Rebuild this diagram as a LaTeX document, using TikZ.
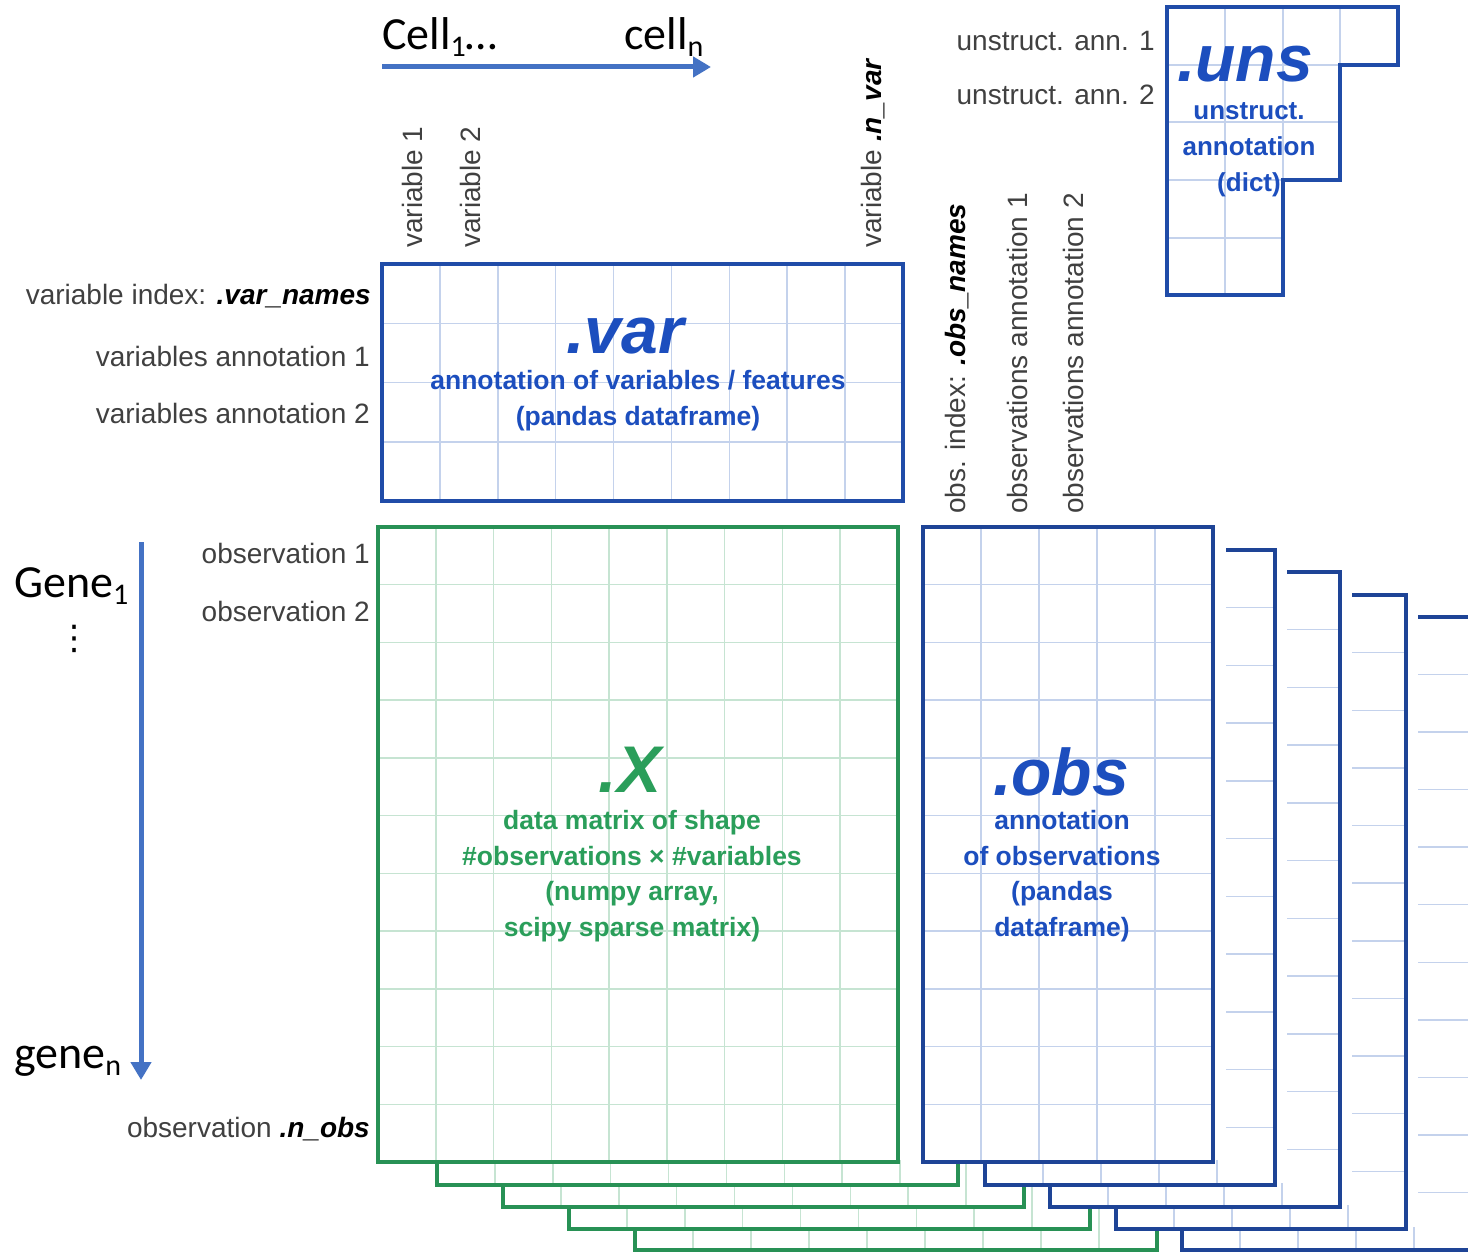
\documentclass[tikz,border=0pt]{standalone}
\usepackage{fontspec}
\setmainfont{Liberation Sans}
\newfontfamily\calibri{Carlito}
\newfontfamily\djv{DejaVu Sans}
\usetikzlibrary{arrows.meta}
\definecolor{bblue}{RGB}{32,76,168}
\definecolor{oblue}{RGB}{30,68,150}
\definecolor{tblue}{RGB}{28,78,190}
\definecolor{ggreen}{RGB}{40,145,85}
\definecolor{tgreen}{RGB}{42,158,90}
\definecolor{gridb}{RGB}{196,210,236}
\definecolor{gridg}{RGB}{198,228,210}
\definecolor{labgray}{RGB}{64,64,64}
\definecolor{arrblue}{RGB}{68,114,196}
\newcommand\csub[1]{\raisebox{-7pt}{\fontsize{30}{30}\selectfont #1}}
% #1 x1, #2 y1, #3 x2, #4 y2, #5 cols, #6 rows, #7 border colour, #8 grid colour
\newcommand\gridrect[8]{%
  \fill[white] (#1,#2) rectangle (#3,#4);
  \pgfmathtruncatemacro\gnx{#5-1}%
  \pgfmathtruncatemacro\gny{#6-1}%
  \foreach \i in {1,...,\gnx}{\pgfmathsetmacro\gxx{#1+\i*(#3-#1)/#5}\draw[gridline,#8] (\gxx,#2) -- (\gxx,#4);}
  \foreach \j in {1,...,\gny}{\pgfmathsetmacro\gyy{#2+\j*(#4-#2)/#6}\draw[gridline,#8] (#1,\gyy) -- (#3,\gyy);}
  \draw[boxline,#7] (#1,#2) rectangle (#3,#4);
}
\tikzset{
  gridline/.style={line width=1.5pt},
  boxline/.style={line width=4pt, line join=miter},
  lab/.style={font=\fontsize{28}{30}\selectfont, text=labgray, inner sep=0pt},
  bigt/.style={font=\fontsize{66}{66}\selectfont\bfseries\itshape, inner sep=0pt, anchor=base},
  desc/.style={font=\fontsize{26.5}{35.5}\selectfont\bfseries, align=center, inner sep=0pt, anchor=base},
  cal/.style={font=\calibri\fontsize{46}{50}\selectfont, inner sep=0pt, anchor=base west, text=black},
  arr/.style={draw=arrblue, line width=5pt, -{Triangle[length=18pt,width=20pt]}},
}
\begin{document}
\begin{tikzpicture}[x=1pt,y=-1pt]
\useasboundingbox (0,0) rectangle (1468,1252);
\fill[white] (0,0) rectangle (1468,1252);

% ---- stacked layers of X
\gridrect{635}{615}{1157}{1250}{9}{11}{ggreen}{gridg}
\gridrect{569}{593}{1090}{1229}{9}{11}{ggreen}{gridg}
\gridrect{503}{571}{1024}{1207}{9}{11}{ggreen}{gridg}
\gridrect{437}{549}{958}{1185}{9}{11}{ggreen}{gridg}
% ---- main X
\gridrect{378}{527}{898}{1162}{9}{11}{ggreen}{gridg}

% ---- stacked layers of obs (each with a white margin on its right)
\fill[white] (1406,617) rectangle (1468,1248);
\gridrect{1182}{617}{1472}{1250}{5}{11}{oblue}{gridb}
\fill[white] (1340,595) rectangle (1418,1227);
\gridrect{1116}{595}{1406}{1229}{5}{11}{oblue}{gridb}
\fill[white] (1275,572) rectangle (1352,1205);
\gridrect{1050}{572}{1340}{1207}{5}{11}{oblue}{gridb}
\fill[white] (1210,550) rectangle (1287,1183);
\gridrect{985}{550}{1275}{1185}{5}{11}{oblue}{gridb}
% ---- main obs
\fill[white] (900,527) rectangle (1226,1160);
\gridrect{923}{527}{1213}{1162}{5}{11}{oblue}{gridb}

% ---- var
\gridrect{382}{264}{903}{501}{9}{4}{bblue}{gridb}

% ---- uns
\begin{scope}
  \clip (1167,7) -- (1398,7) -- (1398,65) -- (1340,65) -- (1340,180) -- (1283,180) -- (1283,295) -- (1167,295) -- cycle;
  \foreach \gxx in {1225,1283,1340} \draw[gridline,gridb] (\gxx,7) -- (\gxx,295);
  \foreach \gyy in {65,122,180,238} \draw[gridline,gridb] (1167,\gyy) -- (1398,\gyy);
\end{scope}
\draw[boxline,bblue] (1167,7) -- (1398,7) -- (1398,65) -- (1340,65) -- (1340,180) -- (1283,180) -- (1283,295) -- (1167,295) -- cycle;

% ---- titles and descriptions (base = baseline of the last line)
\node[bigt,text=tblue] (vart) at (625,353) {.var};
\node[desc,text=tblue] (vard) at (638,425) {annotation of variables / features\\(pandas dataframe)};
\node[bigt,text=tgreen] (xt) at (630,792) {.X};
\node[desc,text=tgreen] (xd) at (632,936) {data matrix of shape\\\#observations × \#variables\\(numpy array,\\scipy sparse matrix)};
\node[bigt,text=tblue] (obst) at (1061,795) {.obs};
\node[desc,text=tblue] (obsd) at (1062,936) {annotation\\of observations\\(pandas\\dataframe)};
\node[bigt,text=tblue] (unst) at (1245,82) {.uns};
\node[desc,text=tblue,font=\fontsize{26}{36}\selectfont\bfseries] (unsd) at (1249,192) {unstruct.\\annotation\\(dict)};

% ---- row / column labels
\node[lab,anchor=base east] (vidx) at (371,305) {variable index: \textcolor{black}{\bfseries\itshape .var\_names}};
\node[lab,anchor=base east] (va1) at (370,366) {variables annotation 1};
\node[lab,anchor=base east] (va2) at (370,423) {variables annotation 2};
\node[lab,anchor=base east] (ob1) at (370,563) {observation 1};
\node[lab,anchor=base east] (ob2) at (370,621) {observation 2};
\node[lab,anchor=base east] (obn) at (370,1137) {observation \textcolor{black}{\bfseries\itshape .n\_obs}};
\node[lab,rotate=90,anchor=base west] (v1) at (422,248) {variable 1};
\node[lab,rotate=90,anchor=base west] (v2) at (480,248) {variable 2};
\node[lab,rotate=90,anchor=base west] (vn) at (881,248) {variable \textcolor{black}{\bfseries\itshape .n\_var}};
\node[lab,rotate=90,anchor=base west] (oidx) at (965,514) {obs. index: \textcolor{black}{\bfseries\itshape .obs\_names}};
\node[lab,rotate=90,anchor=base west] (oa1) at (1027,514) {observations annotation 1};
\node[lab,rotate=90,anchor=base west] (oa2) at (1083,514) {observations annotation 2};
\node[lab,anchor=base east] (ua1) at (1155,51) {unstruct. ann. 1};
\node[lab,anchor=base east] (ua2) at (1155,105) {unstruct. ann. 2};

% ---- cell / gene axes
\node[cal] (cell1) at (382,50) {Cell\csub{1}…};
\node[cal] (celln) at (624,50) {cell\csub{n}};
\coordinate (ha) at (382,67);
\coordinate (hb) at (711,67);
\draw[arr] (ha) -- (hb);
\node[cal] (gene1) at (14,597) {Gene\csub{1}};
\node[font=\djv\fontsize{34}{34}\selectfont, inner sep=0pt] (vdots) at (74,639) {⋮};
\node[cal] (genen) at (14,1068) {gene\csub{n}};
\coordinate (vta) at (141,542);
\coordinate (vtb) at (141,1080);
\draw[arr] (vta) -- (vtb);
\end{tikzpicture}
\end{document}
